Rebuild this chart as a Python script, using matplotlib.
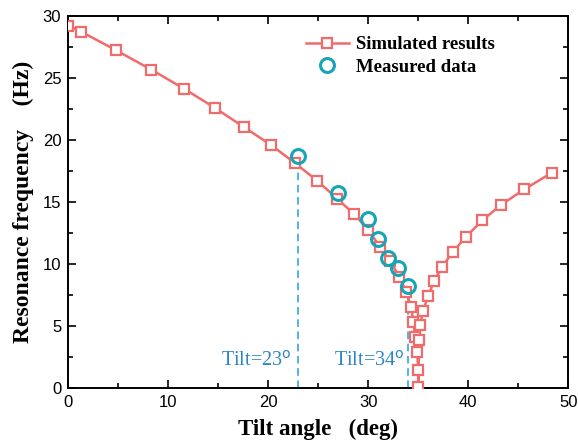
import matplotlib
matplotlib.use("Agg")
import matplotlib.pyplot as plt
from matplotlib.ticker import MultipleLocator

# Simulated resonance frequency vs tilt angle (left branch then right branch)
sim_tilt = [0.0, 1.3, 4.8, 8.3, 11.6, 14.7, 17.6, 20.3, 22.7, 24.9, 26.9, 28.6,
            30.0, 31.2, 32.2, 33.1, 33.8, 34.3, 34.5, 34.7, 34.9, 35.0, 35.0,
            35.1, 35.2, 35.5, 36.0, 36.6, 37.4, 38.5, 39.8, 41.4, 43.3, 45.6, 48.4]
sim_freq = [29.2, 28.7, 27.2, 25.65, 24.1, 22.55, 21.0, 19.57, 18.1, 16.7, 15.25, 14.0,
            12.74, 11.35, 10.2, 8.98, 7.77, 6.56, 5.35, 4.14, 2.93, 1.45, 0.05,
            3.87, 5.08, 6.24, 7.42, 8.63, 9.78, 10.99, 12.2, 13.5, 14.76, 16.0, 17.36]

# Measured data
meas_tilt = [23.0, 27.0, 30.0, 31.0, 32.0, 33.0, 34.0]
meas_freq = [18.7, 15.7, 13.6, 12.0, 10.5, 9.65, 8.25]

# Marked tilt angles and the frequency reached there
mark_tilt = [23, 34]
mark_top = [17.9, 7.7]
mark_labels = ["Tilt=23$^{\\rm o}$", "Tilt=34$^{\\rm o}$"]

red = "#f06b6b"
teal = "#15a5b8"
blue = "#2a86c8"

fig = plt.figure(figsize=(5.78, 4.45), dpi=100)
ax = fig.add_axes([0.118, 0.128, 0.865, 0.837])

ax.plot(sim_tilt, sim_freq, color=red, lw=1.8, marker="s", ms=7.5,
        mfc="white", mec=red, mew=1.6, label="Simulated results", zorder=3)
ax.plot(meas_tilt, meas_freq, ls="none", marker="o", ms=10,
        mfc="none", mec=teal, mew=2.2, label="Measured data", zorder=4)

for t, top in zip(mark_tilt, mark_top):
    ax.vlines(t, 0, top, colors="#22a0da", linestyles=(0, (5, 3)), lw=1.1, zorder=2)

serif = ["Liberation Serif", "DejaVu Serif"]
ax.text(22.3, 2.2, mark_labels[0], color=blue, fontsize=14.5, family=serif,
        ha="right", va="center")
ax.text(33.6, 2.2, mark_labels[1], color=blue, fontsize=14.5, family=serif,
        ha="right", va="center")

ax.set_xlim(0, 50)
ax.set_ylim(0, 30)
ax.xaxis.set_major_locator(MultipleLocator(10))
ax.xaxis.set_minor_locator(MultipleLocator(5))
ax.yaxis.set_major_locator(MultipleLocator(5))
ax.yaxis.set_minor_locator(MultipleLocator(2.5))
ax.tick_params(which="both", direction="in", top=True, right=True,
               labelsize=12, width=1.2, pad=5)
ax.tick_params(which="major", length=6)
ax.tick_params(which="minor", length=3.5)
for lab in ax.get_xticklabels() + ax.get_yticklabels():
    lab.set_family(["Liberation Sans", "DejaVu Sans"])
for sp in ax.spines.values():
    sp.set_linewidth(1.4)

ax.set_xlabel("Tilt angle   (deg)", fontsize=16.5, fontweight="bold", family=serif,
              labelpad=6)
ax.set_ylabel("Resonance frequency    (Hz)", fontsize=17, fontweight="bold",
              family=serif, labelpad=6)

leg = ax.legend(loc="upper right", bbox_to_anchor=(0.888, 0.99), frameon=False,
                prop={"family": serif, "weight": "bold", "size": 13.5},
                handlelength=2.3, handletextpad=0.4, labelspacing=0.3)

fig.savefig("out.png", dpi=100)
